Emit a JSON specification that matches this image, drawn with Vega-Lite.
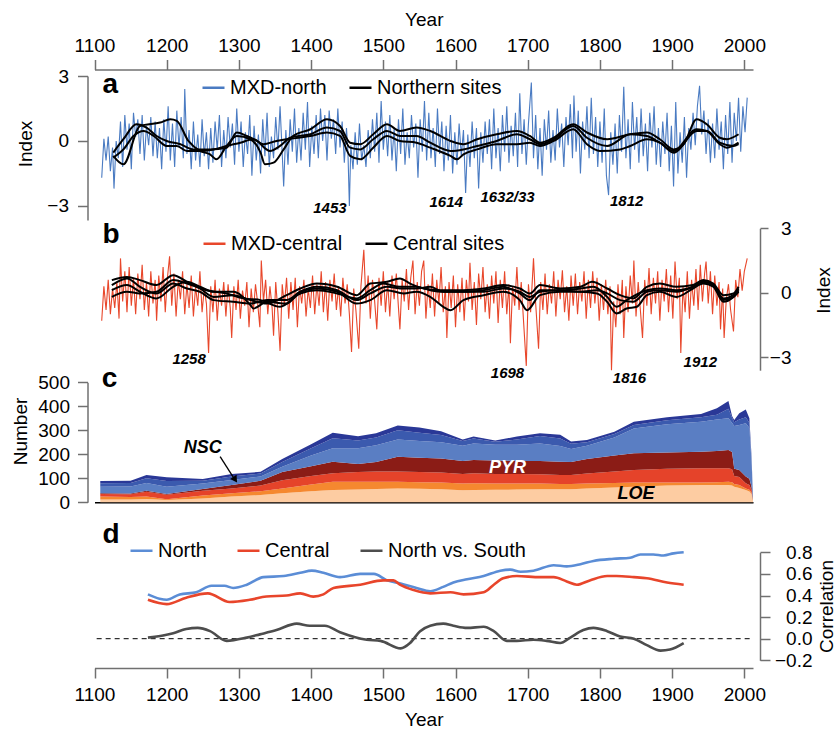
{
"$schema": "https://vega.github.io/schema/vega-lite/v6.json",
"width": 837, "height": 729, "autosize": {"type": "none"}, "padding": 0,
"config": {
 "view": {"stroke": null},
 "font": "Liberation Sans",
 "axis": {"grid": false, "labelFont": "Liberation Sans", "titleFont": "Liberation Sans", "labelFontSize": 19, "titleFontSize": 19, "titleFontWeight": "normal", "labelColor": "#000", "titleColor": "#000", "domainColor": "#707070", "tickColor": "#707070", "domainWidth": 1.5, "tickWidth": 1.5, "labelFlush": false, "labelOverlap": false},
 "legend": {"orient": "none", "direction": "horizontal", "title": null, "labelFont": "Liberation Sans", "labelFontSize": 20, "labelColor": "#000", "symbolType": "stroke", "symbolSize": 484, "symbolStrokeWidth": 2.5, "labelOffset": 4, "columnPadding": 17, "padding": 0}
},
"datasets": {
 "north": [
{"year":1110,"index":-1.7},{"year":1113,"index":0.1},{"year":1116,"index":-0.9},{"year":1119,"index":0.2},{"year":1122,"index":-1.4},{"year":1125,"index":-0.3},{"year":1127,"index":-2.2},{"year":1130,"index":0.0},{"year":1133,"index":-0.8},{"year":1136,"index":0.9},{"year":1139,"index":-1.2},{"year":1142,"index":1.2},{"year":1145,"index":-0.4},{"year":1148,"index":0.8},{"year":1151,"index":-1.3},{"year":1154,"index":1.3},{"year":1157,"index":0.2},{"year":1160,"index":1.0},{"year":1163,"index":-0.6},{"year":1166,"index":1.2},{"year":1169,"index":-0.9},{"year":1172,"index":0.7},{"year":1175,"index":-0.2},{"year":1178,"index":1.1},{"year":1181,"index":-0.7},{"year":1184,"index":0.9},{"year":1187,"index":-0.8},{"year":1190,"index":0.6},{"year":1193,"index":-1.3},{"year":1196,"index":1.0},{"year":1199,"index":-0.5},{"year":1202,"index":1.6},{"year":1205,"index":-0.9},{"year":1208,"index":0.8},{"year":1211,"index":-1.2},{"year":1214,"index":1.4},{"year":1217,"index":-0.3},{"year":1220,"index":1.1},{"year":1223,"index":-0.8},{"year":1225,"index":2.4},{"year":1228,"index":-0.6},{"year":1231,"index":0.5},{"year":1234,"index":-1.3},{"year":1237,"index":0.9},{"year":1240,"index":-0.9},{"year":1243,"index":0.3},{"year":1246,"index":-1.2},{"year":1249,"index":1.0},{"year":1252,"index":-0.7},{"year":1255,"index":0.4},{"year":1258,"index":-1.3},{"year":1261,"index":0.6},{"year":1264,"index":-1.0},{"year":1267,"index":0.9},{"year":1270,"index":-0.4},{"year":1273,"index":1.2},{"year":1276,"index":-1.2},{"year":1279,"index":0.5},{"year":1282,"index":-0.8},{"year":1285,"index":1.1},{"year":1288,"index":-0.3},{"year":1291,"index":0.8},{"year":1294,"index":-1.1},{"year":1297,"index":1.5},{"year":1300,"index":-0.5},{"year":1303,"index":0.9},{"year":1306,"index":-1.2},{"year":1309,"index":0.4},{"year":1312,"index":-0.6},{"year":1315,"index":1.2},{"year":1318,"index":-1.6},{"year":1321,"index":0.7},{"year":1324,"index":-0.9},{"year":1327,"index":0.3},{"year":1330,"index":-1.5},{"year":1333,"index":1.0},{"year":1336,"index":-0.7},{"year":1339,"index":1.3},{"year":1342,"index":-1.2},{"year":1345,"index":0.2},{"year":1348,"index":-0.8},{"year":1351,"index":1.1},{"year":1354,"index":-0.4},{"year":1357,"index":1.6},{"year":1360,"index":-0.6},{"year":1362,"index":-2.1},{"year":1365,"index":0.5},{"year":1368,"index":-1.1},{"year":1371,"index":1.0},{"year":1374,"index":-0.5},{"year":1377,"index":1.5},{"year":1380,"index":-1.0},{"year":1383,"index":0.6},{"year":1386,"index":-0.9},{"year":1389,"index":1.3},{"year":1392,"index":-0.4},{"year":1395,"index":1.8},{"year":1398,"index":-1.2},{"year":1401,"index":0.7},{"year":1404,"index":-0.6},{"year":1407,"index":1.2},{"year":1410,"index":-0.8},{"year":1413,"index":1.5},{"year":1416,"index":0.0},{"year":1419,"index":1.2},{"year":1422,"index":-0.9},{"year":1425,"index":1.4},{"year":1428,"index":0.1},{"year":1431,"index":1.0},{"year":1434,"index":-0.6},{"year":1437,"index":1.5},{"year":1440,"index":-0.3},{"year":1443,"index":0.9},{"year":1446,"index":-1.0},{"year":1449,"index":0.6},{"year":1451,"index":-0.5},{"year":1453,"index":-3.0},{"year":1455,"index":-0.2},{"year":1458,"index":-1.3},{"year":1461,"index":0.4},{"year":1464,"index":-1.1},{"year":1467,"index":0.8},{"year":1470,"index":-0.9},{"year":1473,"index":-0.2},{"year":1476,"index":-1.2},{"year":1479,"index":0.5},{"year":1482,"index":-0.8},{"year":1485,"index":1.0},{"year":1488,"index":-0.5},{"year":1491,"index":1.3},{"year":1494,"index":-1.0},{"year":1497,"index":1.85},{"year":1500,"index":-0.4},{"year":1503,"index":0.9},{"year":1506,"index":-0.7},{"year":1509,"index":1.2},{"year":1512,"index":-0.9},{"year":1515,"index":0.6},{"year":1518,"index":-1.4},{"year":1521,"index":1.0},{"year":1524,"index":-0.6},{"year":1527,"index":1.5},{"year":1530,"index":-1.1},{"year":1533,"index":0.4},{"year":1536,"index":-0.8},{"year":1539,"index":1.2},{"year":1542,"index":-0.3},{"year":1545,"index":0.8},{"year":1548,"index":-1.7},{"year":1551,"index":1.0},{"year":1554,"index":-0.5},{"year":1557,"index":1.85},{"year":1560,"index":-0.9},{"year":1563,"index":1.3},{"year":1566,"index":-0.8},{"year":1569,"index":0.6},{"year":1572,"index":-1.2},{"year":1575,"index":1.5},{"year":1578,"index":-0.6},{"year":1581,"index":0.9},{"year":1584,"index":-1.4},{"year":1587,"index":0.7},{"year":1590,"index":-0.9},{"year":1593,"index":1.2},{"year":1596,"index":-1.5},{"year":1599,"index":0.4},{"year":1602,"index":-1.1},{"year":1605,"index":0.8},{"year":1608,"index":-0.7},{"year":1611,"index":0.5},{"year":1614,"index":-2.4},{"year":1617,"index":0.3},{"year":1620,"index":-1.2},{"year":1623,"index":0.9},{"year":1626,"index":-0.8},{"year":1629,"index":0.6},{"year":1632,"index":-2.2},{"year":1635,"index":0.4},{"year":1638,"index":-1.0},{"year":1641,"index":0.9},{"year":1644,"index":-0.6},{"year":1647,"index":1.0},{"year":1650,"index":-1.3},{"year":1653,"index":1.5},{"year":1656,"index":-0.8},{"year":1659,"index":0.6},{"year":1662,"index":-1.4},{"year":1665,"index":1.2},{"year":1668,"index":-0.5},{"year":1671,"index":1.6},{"year":1674,"index":-1.0},{"year":1677,"index":0.7},{"year":1680,"index":-0.7},{"year":1683,"index":1.3},{"year":1686,"index":-1.2},{"year":1689,"index":2.2},{"year":1692,"index":-0.6},{"year":1695,"index":1.0},{"year":1698,"index":-1.1},{"year":1701,"index":0.8},{"year":1705,"index":2.7},{"year":1708,"index":-0.8},{"year":1711,"index":1.2},{"year":1714,"index":-1.3},{"year":1717,"index":0.6},{"year":1720,"index":-1.6},{"year":1723,"index":1.0},{"year":1726,"index":-0.4},{"year":1729,"index":1.4},{"year":1732,"index":-1.0},{"year":1735,"index":0.5},{"year":1738,"index":-0.9},{"year":1741,"index":1.5},{"year":1744,"index":-0.3},{"year":1747,"index":0.8},{"year":1750,"index":-1.2},{"year":1753,"index":1.1},{"year":1756,"index":-0.2},{"year":1759,"index":1.7},{"year":1762,"index":-0.8},{"year":1764,"index":2.1},{"year":1767,"index":-0.5},{"year":1770,"index":1.4},{"year":1773,"index":-1.5},{"year":1776,"index":0.9},{"year":1779,"index":-0.4},{"year":1782,"index":1.6},{"year":1785,"index":-0.8},{"year":1788,"index":2.0},{"year":1791,"index":-0.6},{"year":1794,"index":1.1},{"year":1797,"index":-1.2},{"year":1800,"index":0.9},{"year":1803,"index":-1.0},{"year":1806,"index":1.5},{"year":1809,"index":-1.6},{"year":1812,"index":-2.5},{"year":1815,"index":0.4},{"year":1818,"index":-1.1},{"year":1821,"index":0.8},{"year":1824,"index":-1.5},{"year":1827,"index":1.2},{"year":1830,"index":-0.5},{"year":1833,"index":2.5},{"year":1836,"index":-0.8},{"year":1839,"index":1.0},{"year":1842,"index":-1.3},{"year":1845,"index":1.8},{"year":1848,"index":-0.4},{"year":1851,"index":1.1},{"year":1854,"index":-1.0},{"year":1857,"index":1.5},{"year":1860,"index":-0.7},{"year":1863,"index":0.8},{"year":1866,"index":-1.4},{"year":1869,"index":1.3},{"year":1872,"index":-0.3},{"year":1875,"index":1.6},{"year":1878,"index":-1.1},{"year":1881,"index":0.6},{"year":1884,"index":-1.2},{"year":1887,"index":0.9},{"year":1890,"index":-0.6},{"year":1893,"index":1.3},{"year":1896,"index":-1.4},{"year":1899,"index":0.7},{"year":1902,"index":-2.1},{"year":1905,"index":1.8},{"year":1908,"index":-1.5},{"year":1911,"index":0.4},{"year":1914,"index":-1.0},{"year":1917,"index":1.1},{"year":1920,"index":-1.7},{"year":1923,"index":0.6},{"year":1926,"index":-0.4},{"year":1929,"index":1.3},{"year":1932,"index":-0.2},{"year":1935,"index":1.6},{"year":1938,"index":2.55},{"year":1941,"index":0.3},{"year":1944,"index":1.4},{"year":1947,"index":-0.6},{"year":1950,"index":1.0},{"year":1953,"index":-1.0},{"year":1956,"index":0.8},{"year":1959,"index":-0.8},{"year":1962,"index":1.5},{"year":1965,"index":-0.4},{"year":1968,"index":0.9},{"year":1971,"index":-1.3},{"year":1974,"index":1.2},{"year":1977,"index":-0.6},{"year":1980,"index":1.8},{"year":1983,"index":-1.0},{"year":1986,"index":1.3},{"year":1989,"index":0.0},{"year":1992,"index":2.0},{"year":1995,"index":-0.5},{"year":1998,"index":1.6},{"year":2001,"index":0.4},{"year":2004,"index":2.0}
 ],
 "northSites": [
{"site":"N1","year":1126,"index":-0.69},{"site":"N1","year":1140,"index":-1.08},{"site":"N1","year":1163,"index":0.69},{"site":"N1","year":1191,"index":0.85},{"site":"N1","year":1205,"index":1.0},{"site":"N1","year":1214,"index":0.93},{"site":"N1","year":1230,"index":0.0},{"site":"N1","year":1246,"index":-0.46},{"site":"N1","year":1260,"index":-0.62},{"site":"N1","year":1269,"index":-0.85},{"site":"N1","year":1283,"index":-0.23},{"site":"N1","year":1297,"index":0.23},{"site":"N1","year":1316,"index":0.08},{"site":"N1","year":1330,"index":-0.54},{"site":"N1","year":1336,"index":-1.08},{"site":"N1","year":1348,"index":-1.0},{"site":"N1","year":1362,"index":-0.39},{"site":"N1","year":1375,"index":0.23},{"site":"N1","year":1399,"index":0.54},{"site":"N1","year":1422,"index":1.0},{"site":"N1","year":1440,"index":0.69},{"site":"N1","year":1454,"index":-0.08},{"site":"N1","year":1468,"index":-0.15},{"site":"N1","year":1486,"index":0.31},{"site":"N1","year":1505,"index":0.77},{"site":"N1","year":1523,"index":0.46},{"site":"N1","year":1546,"index":0.62},{"site":"N1","year":1565,"index":0.46},{"site":"N1","year":1593,"index":0.0},{"site":"N1","year":1611,"index":-0.15},{"site":"N1","year":1630,"index":0.08},{"site":"N1","year":1657,"index":0.31},{"site":"N1","year":1685,"index":0.46},{"site":"N1","year":1703,"index":0.23},{"site":"N1","year":1717,"index":-0.08},{"site":"N1","year":1736,"index":0.15},{"site":"N1","year":1763,"index":0.77},{"site":"N1","year":1782,"index":0.39},{"site":"N1","year":1810,"index":0.08},{"site":"N1","year":1842,"index":0.31},{"site":"N1","year":1865,"index":0.39},{"site":"N1","year":1883,"index":0.08},{"site":"N1","year":1902,"index":-0.39},{"site":"N1","year":1916,"index":-0.15},{"site":"N1","year":1934,"index":1.0},{"site":"N1","year":1948,"index":0.77},{"site":"N1","year":1966,"index":0.15},{"site":"N1","year":1976,"index":0.08},{"site":"N1","year":1992,"index":0.31},
{"site":"N2","year":1126,"index":-0.54},{"site":"N2","year":1140,"index":0.08},{"site":"N2","year":1158,"index":0.77},{"site":"N2","year":1172,"index":0.62},{"site":"N2","year":1186,"index":0.23},{"site":"N2","year":1200,"index":0.0},{"site":"N2","year":1219,"index":-0.15},{"site":"N2","year":1237,"index":-0.39},{"site":"N2","year":1260,"index":-0.39},{"site":"N2","year":1283,"index":-0.31},{"site":"N2","year":1297,"index":0.39},{"site":"N2","year":1311,"index":0.23},{"site":"N2","year":1325,"index":0.0},{"site":"N2","year":1343,"index":-0.46},{"site":"N2","year":1357,"index":-0.23},{"site":"N2","year":1371,"index":0.15},{"site":"N2","year":1399,"index":0.31},{"site":"N2","year":1422,"index":0.62},{"site":"N2","year":1440,"index":0.46},{"site":"N2","year":1454,"index":-0.31},{"site":"N2","year":1468,"index":-0.39},{"site":"N2","year":1486,"index":0.08},{"site":"N2","year":1505,"index":0.46},{"site":"N2","year":1523,"index":0.23},{"site":"N2","year":1546,"index":0.23},{"site":"N2","year":1565,"index":-0.08},{"site":"N2","year":1593,"index":-0.46},{"site":"N2","year":1611,"index":-0.39},{"site":"N2","year":1630,"index":-0.23},{"site":"N2","year":1657,"index":0.0},{"site":"N2","year":1685,"index":0.31},{"site":"N2","year":1703,"index":0.08},{"site":"N2","year":1717,"index":-0.15},{"site":"N2","year":1736,"index":0.08},{"site":"N2","year":1763,"index":0.69},{"site":"N2","year":1782,"index":0.15},{"site":"N2","year":1810,"index":-0.23},{"site":"N2","year":1842,"index":0.31},{"site":"N2","year":1865,"index":0.23},{"site":"N2","year":1883,"index":-0.08},{"site":"N2","year":1902,"index":-0.46},{"site":"N2","year":1934,"index":0.54},{"site":"N2","year":1948,"index":0.46},{"site":"N2","year":1966,"index":-0.15},{"site":"N2","year":1976,"index":-0.31},{"site":"N2","year":1992,"index":-0.08},
{"site":"N3","year":1126,"index":-0.77},{"site":"N3","year":1140,"index":-0.39},{"site":"N3","year":1154,"index":0.23},{"site":"N3","year":1168,"index":0.46},{"site":"N3","year":1182,"index":0.23},{"site":"N3","year":1200,"index":-0.23},{"site":"N3","year":1214,"index":-0.23},{"site":"N3","year":1228,"index":-0.46},{"site":"N3","year":1246,"index":-0.46},{"site":"N3","year":1265,"index":-0.39},{"site":"N3","year":1283,"index":-0.23},{"site":"N3","year":1302,"index":-0.08},{"site":"N3","year":1320,"index":0.08},{"site":"N3","year":1334,"index":-0.15},{"site":"N3","year":1352,"index":0.0},{"site":"N3","year":1371,"index":0.1},{"site":"N3","year":1399,"index":0.23},{"site":"N3","year":1422,"index":0.39},{"site":"N3","year":1440,"index":0.23},{"site":"N3","year":1454,"index":-0.69},{"site":"N3","year":1468,"index":-0.85},{"site":"N3","year":1486,"index":-0.31},{"site":"N3","year":1505,"index":0.23},{"site":"N3","year":1523,"index":0.0},{"site":"N3","year":1546,"index":-0.08},{"site":"N3","year":1565,"index":-0.31},{"site":"N3","year":1593,"index":-0.69},{"site":"N3","year":1602,"index":-0.85},{"site":"N3","year":1611,"index":-0.62},{"site":"N3","year":1630,"index":-0.39},{"site":"N3","year":1657,"index":-0.15},{"site":"N3","year":1685,"index":-0.15},{"site":"N3","year":1703,"index":-0.08},{"site":"N3","year":1717,"index":-0.23},{"site":"N3","year":1736,"index":0.0},{"site":"N3","year":1763,"index":0.54},{"site":"N3","year":1782,"index":-0.15},{"site":"N3","year":1800,"index":-0.46},{"site":"N3","year":1828,"index":-0.39},{"site":"N3","year":1842,"index":-0.23},{"site":"N3","year":1865,"index":0.08},{"site":"N3","year":1883,"index":-0.08},{"site":"N3","year":1902,"index":-0.54},{"site":"N3","year":1934,"index":0.46},{"site":"N3","year":1948,"index":0.46},{"site":"N3","year":1966,"index":-0.08},{"site":"N3","year":1985,"index":-0.23},{"site":"N3","year":1992,"index":-0.15}
 ],
 "central": [
{"year":1110,"index":-1.3},{"year":1113,"index":0.3},{"year":1116,"index":-0.8},{"year":1119,"index":0.6},{"year":1122,"index":-1.0},{"year":1125,"index":0.2},{"year":1128,"index":-0.7},{"year":1131,"index":0.5},{"year":1134,"index":-1.2},{"year":1136,"index":1.6},{"year":1139,"index":-0.4},{"year":1142,"index":1.0},{"year":1145,"index":-0.9},{"year":1148,"index":1.2},{"year":1151,"index":-0.6},{"year":1154,"index":0.7},{"year":1157,"index":-1.0},{"year":1160,"index":0.9},{"year":1163,"index":-0.3},{"year":1166,"index":1.3},{"year":1169,"index":-0.8},{"year":1172,"index":0.5},{"year":1175,"index":-1.1},{"year":1178,"index":1.0},{"year":1181,"index":-0.5},{"year":1184,"index":0.6},{"year":1186,"index":-1.3},{"year":1189,"index":0.8},{"year":1192,"index":-0.4},{"year":1195,"index":1.2},{"year":1198,"index":-0.9},{"year":1201,"index":0.7},{"year":1204,"index":1.7},{"year":1207,"index":-0.6},{"year":1210,"index":0.9},{"year":1213,"index":-1.1},{"year":1216,"index":0.6},{"year":1219,"index":-0.3},{"year":1222,"index":1.0},{"year":1225,"index":-1.0},{"year":1228,"index":0.4},{"year":1231,"index":-0.7},{"year":1234,"index":0.8},{"year":1237,"index":-1.1},{"year":1240,"index":0.3},{"year":1243,"index":-0.6},{"year":1246,"index":1.0},{"year":1249,"index":-0.9},{"year":1252,"index":0.2},{"year":1255,"index":-0.5},{"year":1258,"index":-2.8},{"year":1261,"index":0.3},{"year":1264,"index":-0.9},{"year":1267,"index":0.6},{"year":1270,"index":-1.3},{"year":1273,"index":0.2},{"year":1276,"index":-0.6},{"year":1279,"index":0.5},{"year":1282,"index":-1.1},{"year":1285,"index":0.4},{"year":1288,"index":-0.7},{"year":1290,"index":-2.1},{"year":1293,"index":0.3},{"year":1296,"index":-0.8},{"year":1299,"index":0.6},{"year":1302,"index":-1.2},{"year":1305,"index":0.1},{"year":1308,"index":-0.6},{"year":1311,"index":0.5},{"year":1314,"index":-1.6},{"year":1317,"index":0.2},{"year":1320,"index":-0.9},{"year":1323,"index":0.4},{"year":1326,"index":-0.5},{"year":1329,"index":-1.6},{"year":1331,"index":1.5},{"year":1334,"index":-0.4},{"year":1337,"index":0.6},{"year":1340,"index":-1.0},{"year":1343,"index":0.3},{"year":1346,"index":-0.7},{"year":1348,"index":-2.0},{"year":1351,"index":0.5},{"year":1354,"index":-0.9},{"year":1357,"index":-2.7},{"year":1360,"index":0.4},{"year":1363,"index":-0.6},{"year":1366,"index":0.7},{"year":1369,"index":-1.2},{"year":1372,"index":0.5},{"year":1375,"index":-0.8},{"year":1378,"index":0.7},{"year":1381,"index":-1.6},{"year":1384,"index":0.3},{"year":1387,"index":-0.5},{"year":1390,"index":0.6},{"year":1393,"index":-1.1},{"year":1396,"index":0.2},{"year":1399,"index":-0.7},{"year":1402,"index":0.8},{"year":1405,"index":-1.0},{"year":1408,"index":0.4},{"year":1411,"index":-0.6},{"year":1414,"index":1.0},{"year":1417,"index":-0.9},{"year":1420,"index":0.5},{"year":1423,"index":-1.3},{"year":1426,"index":0.6},{"year":1429,"index":-0.4},{"year":1432,"index":0.9},{"year":1435,"index":-0.8},{"year":1438,"index":0.3},{"year":1441,"index":-1.1},{"year":1444,"index":0.7},{"year":1447,"index":-0.5},{"year":1450,"index":0.4},{"year":1453,"index":-1.0},{"year":1456,"index":-2.75},{"year":1459,"index":0.2},{"year":1462,"index":-0.8},{"year":1466,"index":-2.6},{"year":1469,"index":0.3},{"year":1473,"index":2.0},{"year":1476,"index":-0.5},{"year":1479,"index":0.8},{"year":1482,"index":-1.2},{"year":1485,"index":0.6},{"year":1488,"index":-0.4},{"year":1491,"index":-1.7},{"year":1494,"index":0.7},{"year":1497,"index":-0.6},{"year":1500,"index":1.0},{"year":1503,"index":-0.9},{"year":1506,"index":0.5},{"year":1509,"index":-1.1},{"year":1512,"index":0.8},{"year":1515,"index":-0.3},{"year":1518,"index":0.9},{"year":1521,"index":-0.7},{"year":1523,"index":-1.7},{"year":1526,"index":0.6},{"year":1529,"index":-0.4},{"year":1532,"index":1.1},{"year":1535,"index":-0.8},{"year":1538,"index":0.7},{"year":1541,"index":1.5},{"year":1544,"index":-1.0},{"year":1547,"index":0.5},{"year":1550,"index":-0.6},{"year":1553,"index":1.0},{"year":1556,"index":1.5},{"year":1559,"index":-1.2},{"year":1562,"index":0.4},{"year":1565,"index":-0.7},{"year":1568,"index":0.9},{"year":1571,"index":-1.1},{"year":1574,"index":0.6},{"year":1577,"index":-0.5},{"year":1580,"index":1.2},{"year":1583,"index":-0.9},{"year":1586,"index":0.3},{"year":1588,"index":-2.1},{"year":1591,"index":0.5},{"year":1594,"index":-0.7},{"year":1597,"index":0.8},{"year":1600,"index":-1.6},{"year":1603,"index":0.4},{"year":1606,"index":-0.9},{"year":1609,"index":0.7},{"year":1612,"index":-1.3},{"year":1615,"index":0.6},{"year":1618,"index":-0.4},{"year":1620,"index":1.4},{"year":1623,"index":-0.8},{"year":1626,"index":0.5},{"year":1629,"index":-1.5},{"year":1632,"index":0.9},{"year":1635,"index":-0.3},{"year":1638,"index":1.2},{"year":1641,"index":-0.9},{"year":1644,"index":0.4},{"year":1647,"index":-1.2},{"year":1650,"index":0.8},{"year":1653,"index":-0.5},{"year":1656,"index":1.0},{"year":1659,"index":-1.4},{"year":1662,"index":0.6},{"year":1665,"index":-0.7},{"year":1668,"index":1.0},{"year":1671,"index":-1.0},{"year":1674,"index":0.4},{"year":1676,"index":-2.35},{"year":1679,"index":0.3},{"year":1682,"index":-0.6},{"year":1685,"index":1.2},{"year":1688,"index":-0.8},{"year":1691,"index":0.5},{"year":1694,"index":-1.2},{"year":1698,"index":-3.4},{"year":1701,"index":0.4},{"year":1704,"index":-0.9},{"year":1708,"index":1.6},{"year":1711,"index":-0.5},{"year":1715,"index":-2.6},{"year":1718,"index":0.5},{"year":1721,"index":-0.8},{"year":1724,"index":0.9},{"year":1727,"index":-1.0},{"year":1730,"index":0.4},{"year":1733,"index":-0.5},{"year":1736,"index":1.0},{"year":1739,"index":-1.1},{"year":1742,"index":0.6},{"year":1745,"index":-0.3},{"year":1748,"index":1.05},{"year":1751,"index":-0.9},{"year":1754,"index":0.3},{"year":1757,"index":-1.3},{"year":1760,"index":0.8},{"year":1763,"index":-0.6},{"year":1766,"index":0.9},{"year":1769,"index":-1.0},{"year":1772,"index":0.5},{"year":1775,"index":-0.4},{"year":1778,"index":1.0},{"year":1781,"index":-1.2},{"year":1784,"index":0.6},{"year":1787,"index":-0.7},{"year":1790,"index":1.0},{"year":1793,"index":-0.5},{"year":1796,"index":0.7},{"year":1799,"index":-1.3},{"year":1802,"index":0.4},{"year":1805,"index":-0.8},{"year":1808,"index":0.6},{"year":1811,"index":-1.0},{"year":1814,"index":0.3},{"year":1816,"index":-3.6},{"year":1819,"index":-0.4},{"year":1822,"index":-1.6},{"year":1825,"index":0.4},{"year":1828,"index":-1.0},{"year":1831,"index":0.6},{"year":1833,"index":-2.1},{"year":1836,"index":0.3},{"year":1839,"index":-0.9},{"year":1842,"index":0.8},{"year":1845,"index":-0.5},{"year":1847,"index":1.5},{"year":1850,"index":-1.1},{"year":1853,"index":0.5},{"year":1856,"index":-0.8},{"year":1859,"index":-2.1},{"year":1862,"index":0.6},{"year":1865,"index":-0.6},{"year":1868,"index":1.15},{"year":1871,"index":-1.0},{"year":1874,"index":0.7},{"year":1877,"index":-0.5},{"year":1880,"index":1.0},{"year":1883,"index":-1.3},{"year":1886,"index":0.6},{"year":1889,"index":-0.4},{"year":1892,"index":1.1},{"year":1895,"index":-0.9},{"year":1898,"index":0.8},{"year":1901,"index":-1.2},{"year":1904,"index":1.45},{"year":1907,"index":-0.3},{"year":1910,"index":0.7},{"year":1912,"index":-2.8},{"year":1915,"index":0.3},{"year":1918,"index":-0.9},{"year":1921,"index":1.0},{"year":1924,"index":-1.2},{"year":1927,"index":0.6},{"year":1930,"index":-0.6},{"year":1933,"index":1.1},{"year":1936,"index":-0.8},{"year":1939,"index":1.3},{"year":1942,"index":-0.4},{"year":1945,"index":0.9},{"year":1947,"index":1.45},{"year":1950,"index":-0.5},{"year":1953,"index":1.0},{"year":1956,"index":-1.0},{"year":1959,"index":0.8},{"year":1962,"index":-0.6},{"year":1965,"index":0.5},{"year":1967,"index":-1.7},{"year":1970,"index":0.2},{"year":1972,"index":-2.1},{"year":1975,"index":-0.3},{"year":1978,"index":0.4},{"year":1981,"index":-0.8},{"year":1985,"index":-1.8},{"year":1988,"index":0.6},{"year":1991,"index":-0.2},{"year":1994,"index":1.1},{"year":1997,"index":0.1},{"year":2000,"index":1.0},{"year":2004,"index":1.6}
 ],
 "centralSites": [
{"site":"C1","year":1124,"index":0.59},{"site":"C1","year":1145,"index":0.74},{"site":"C1","year":1163,"index":0.59},{"site":"C1","year":1186,"index":0.36},{"site":"C1","year":1209,"index":0.82},{"site":"C1","year":1228,"index":0.51},{"site":"C1","year":1246,"index":0.2},{"site":"C1","year":1265,"index":-0.19},{"site":"C1","year":1292,"index":-0.11},{"site":"C1","year":1316,"index":-0.34},{"site":"C1","year":1339,"index":-0.5},{"site":"C1","year":1366,"index":-0.11},{"site":"C1","year":1385,"index":0.2},{"site":"C1","year":1408,"index":0.43},{"site":"C1","year":1436,"index":0.28},{"site":"C1","year":1463,"index":-0.11},{"site":"C1","year":1482,"index":0.43},{"site":"C1","year":1505,"index":0.51},{"site":"C1","year":1523,"index":0.67},{"site":"C1","year":1537,"index":0.43},{"site":"C1","year":1556,"index":0.2},{"site":"C1","year":1579,"index":0.12},{"site":"C1","year":1611,"index":0.12},{"site":"C1","year":1639,"index":0.2},{"site":"C1","year":1666,"index":0.36},{"site":"C1","year":1689,"index":0.2},{"site":"C1","year":1703,"index":-0.03},{"site":"C1","year":1717,"index":0.36},{"site":"C1","year":1745,"index":0.2},{"site":"C1","year":1773,"index":0.28},{"site":"C1","year":1789,"index":0.51},{"site":"C1","year":1810,"index":0.2},{"site":"C1","year":1828,"index":-0.11},{"site":"C1","year":1846,"index":-0.26},{"site":"C1","year":1865,"index":0.28},{"site":"C1","year":1883,"index":0.43},{"site":"C1","year":1906,"index":0.28},{"site":"C1","year":1929,"index":0.36},{"site":"C1","year":1943,"index":0.59},{"site":"C1","year":1957,"index":0.43},{"site":"C1","year":1971,"index":-0.11},{"site":"C1","year":1985,"index":-0.03},{"site":"C1","year":1992,"index":0.28},
{"site":"C2","year":1124,"index":0.36},{"site":"C2","year":1145,"index":0.67},{"site":"C2","year":1163,"index":0.28},{"site":"C2","year":1186,"index":-0.03},{"site":"C2","year":1209,"index":0.43},{"site":"C2","year":1228,"index":0.2},{"site":"C2","year":1246,"index":0.05},{"site":"C2","year":1265,"index":-0.34},{"site":"C2","year":1292,"index":-0.42},{"site":"C2","year":1316,"index":-0.5},{"site":"C2","year":1339,"index":-0.34},{"site":"C2","year":1366,"index":-0.34},{"site":"C2","year":1385,"index":0.05},{"site":"C2","year":1408,"index":0.28},{"site":"C2","year":1436,"index":0.12},{"site":"C2","year":1463,"index":-0.34},{"site":"C2","year":1482,"index":-0.03},{"site":"C2","year":1505,"index":0.28},{"site":"C2","year":1528,"index":0.2},{"site":"C2","year":1546,"index":0.2},{"site":"C2","year":1565,"index":0.28},{"site":"C2","year":1583,"index":0.05},{"site":"C2","year":1611,"index":0.05},{"site":"C2","year":1639,"index":0.12},{"site":"C2","year":1666,"index":0.28},{"site":"C2","year":1689,"index":-0.03},{"site":"C2","year":1703,"index":-0.34},{"site":"C2","year":1717,"index":0.12},{"site":"C2","year":1745,"index":0.12},{"site":"C2","year":1773,"index":0.2},{"site":"C2","year":1791,"index":0.28},{"site":"C2","year":1810,"index":-0.19},{"site":"C2","year":1823,"index":-0.65},{"site":"C2","year":1837,"index":-0.34},{"site":"C2","year":1865,"index":0.12},{"site":"C2","year":1883,"index":0.2},{"site":"C2","year":1906,"index":0.12},{"site":"C2","year":1929,"index":0.28},{"site":"C2","year":1943,"index":0.51},{"site":"C2","year":1957,"index":0.36},{"site":"C2","year":1971,"index":-0.26},{"site":"C2","year":1985,"index":-0.11},{"site":"C2","year":1992,"index":0.2},
{"site":"C3","year":1124,"index":0.12},{"site":"C3","year":1145,"index":0.36},{"site":"C3","year":1163,"index":0.05},{"site":"C3","year":1186,"index":-0.26},{"site":"C3","year":1209,"index":0.28},{"site":"C3","year":1228,"index":0.51},{"site":"C3","year":1246,"index":0.28},{"site":"C3","year":1265,"index":0.05},{"site":"C3","year":1292,"index":0.05},{"site":"C3","year":1316,"index":-0.57},{"site":"C3","year":1320,"index":-0.73},{"site":"C3","year":1339,"index":-0.42},{"site":"C3","year":1366,"index":-0.5},{"site":"C3","year":1385,"index":0.05},{"site":"C3","year":1408,"index":0.2},{"site":"C3","year":1436,"index":0.05},{"site":"C3","year":1463,"index":-0.5},{"site":"C3","year":1482,"index":-0.34},{"site":"C3","year":1505,"index":0.12},{"site":"C3","year":1528,"index":-0.03},{"site":"C3","year":1546,"index":0.05},{"site":"C3","year":1565,"index":-0.19},{"site":"C3","year":1583,"index":-0.65},{"site":"C3","year":1593,"index":-0.81},{"site":"C3","year":1611,"index":-0.34},{"site":"C3","year":1639,"index":-0.11},{"site":"C3","year":1666,"index":0.05},{"site":"C3","year":1689,"index":-0.34},{"site":"C3","year":1699,"index":-0.81},{"site":"C3","year":1717,"index":-0.11},{"site":"C3","year":1745,"index":0.05},{"site":"C3","year":1773,"index":0.05},{"site":"C3","year":1796,"index":-0.03},{"site":"C3","year":1810,"index":-0.42},{"site":"C3","year":1823,"index":-0.96},{"site":"C3","year":1837,"index":-0.73},{"site":"C3","year":1851,"index":-0.65},{"site":"C3","year":1865,"index":-0.11},{"site":"C3","year":1883,"index":0.05},{"site":"C3","year":1906,"index":-0.19},{"site":"C3","year":1929,"index":0.2},{"site":"C3","year":1943,"index":0.43},{"site":"C3","year":1957,"index":0.28},{"site":"C3","year":1971,"index":-0.42},{"site":"C3","year":1985,"index":-0.19},{"site":"C3","year":1992,"index":0.05},
{"site":"C4","year":1124,"index":-0.19},{"site":"C4","year":1145,"index":0.05},{"site":"C4","year":1163,"index":-0.03},{"site":"C4","year":1186,"index":0.05},{"site":"C4","year":1209,"index":0.59},{"site":"C4","year":1228,"index":0.43},{"site":"C4","year":1255,"index":0.12},{"site":"C4","year":1283,"index":-0.03},{"site":"C4","year":1306,"index":-0.26},{"site":"C4","year":1330,"index":-0.34},{"site":"C4","year":1357,"index":-0.65},{"site":"C4","year":1385,"index":-0.03},{"site":"C4","year":1408,"index":0.12},{"site":"C4","year":1436,"index":-0.03},{"site":"C4","year":1463,"index":-0.26},{"site":"C4","year":1482,"index":0.12},{"site":"C4","year":1500,"index":0.43},{"site":"C4","year":1523,"index":0.28},{"site":"C4","year":1546,"index":0.28},{"site":"C4","year":1565,"index":0.12},{"site":"C4","year":1583,"index":0.05},{"site":"C4","year":1611,"index":0.05},{"site":"C4","year":1639,"index":0.05},{"site":"C4","year":1666,"index":0.2},{"site":"C4","year":1689,"index":0.05},{"site":"C4","year":1703,"index":-0.19},{"site":"C4","year":1717,"index":0.05},{"site":"C4","year":1745,"index":0.12},{"site":"C4","year":1773,"index":0.05},{"site":"C4","year":1796,"index":0.12},{"site":"C4","year":1810,"index":-0.03},{"site":"C4","year":1828,"index":-0.34},{"site":"C4","year":1846,"index":-0.42},{"site":"C4","year":1865,"index":0.05},{"site":"C4","year":1883,"index":0.12},{"site":"C4","year":1906,"index":0.05},{"site":"C4","year":1929,"index":0.28},{"site":"C4","year":1943,"index":0.51},{"site":"C4","year":1957,"index":0.36},{"site":"C4","year":1971,"index":-0.34},{"site":"C4","year":1985,"index":-0.19},{"site":"C4","year":1992,"index":0.12}
 ],
 "counts": [
{"year":1108,"group":"g1 LOE","n":12},{"year":1108,"group":"g2","n":12},{"year":1108,"group":"g3","n":11},{"year":1108,"group":"g4 PYR","n":3},{"year":1108,"group":"g5 NSC","n":27},{"year":1108,"group":"g6","n":14},{"year":1108,"group":"g7","n":10},
{"year":1150,"group":"g1 LOE","n":12},{"year":1150,"group":"g2","n":10},{"year":1150,"group":"g3","n":12},{"year":1150,"group":"g4 PYR","n":3},{"year":1150,"group":"g5 NSC","n":29},{"year":1150,"group":"g6","n":14},{"year":1150,"group":"g7","n":10},
{"year":1172,"group":"g1 LOE","n":14},{"year":1172,"group":"g2","n":10},{"year":1172,"group":"g3","n":20},{"year":1172,"group":"g4 PYR","n":4},{"year":1172,"group":"g5 NSC","n":32},{"year":1172,"group":"g6","n":20},{"year":1172,"group":"g7","n":14},
{"year":1200,"group":"g1 LOE","n":10},{"year":1200,"group":"g2","n":3},{"year":1200,"group":"g3","n":18},{"year":1200,"group":"g4 PYR","n":4},{"year":1200,"group":"g5 NSC","n":30},{"year":1200,"group":"g6","n":24},{"year":1200,"group":"g7","n":15},
{"year":1250,"group":"g1 LOE","n":16},{"year":1250,"group":"g2","n":12},{"year":1250,"group":"g3","n":20},{"year":1250,"group":"g4 PYR","n":7},{"year":1250,"group":"g5 NSC","n":23},{"year":1250,"group":"g6","n":12},{"year":1250,"group":"g7","n":7},
{"year":1290,"group":"g1 LOE","n":24},{"year":1290,"group":"g2","n":14},{"year":1290,"group":"g3","n":20},{"year":1290,"group":"g4 PYR","n":14},{"year":1290,"group":"g5 NSC","n":21},{"year":1290,"group":"g6","n":14},{"year":1290,"group":"g7","n":11},
{"year":1330,"group":"g1 LOE","n":30},{"year":1330,"group":"g2","n":16},{"year":1330,"group":"g3","n":24},{"year":1330,"group":"g4 PYR","n":20},{"year":1330,"group":"g5 NSC","n":18},{"year":1330,"group":"g6","n":12},{"year":1330,"group":"g7","n":7},
{"year":1360,"group":"g1 LOE","n":38},{"year":1360,"group":"g2","n":20},{"year":1360,"group":"g3","n":34},{"year":1360,"group":"g4 PYR","n":34},{"year":1360,"group":"g5 NSC","n":22},{"year":1360,"group":"g6","n":20},{"year":1360,"group":"g7","n":12},
{"year":1400,"group":"g1 LOE","n":46},{"year":1400,"group":"g2","n":28},{"year":1400,"group":"g3","n":36},{"year":1400,"group":"g4 PYR","n":40},{"year":1400,"group":"g5 NSC","n":45},{"year":1400,"group":"g6","n":30},{"year":1400,"group":"g7","n":17},
{"year":1430,"group":"g1 LOE","n":51},{"year":1430,"group":"g2","n":35},{"year":1430,"group":"g3","n":35},{"year":1430,"group":"g4 PYR","n":48},{"year":1430,"group":"g5 NSC","n":56},{"year":1430,"group":"g6","n":42},{"year":1430,"group":"g7","n":23},
{"year":1465,"group":"g1 LOE","n":53},{"year":1465,"group":"g2","n":33},{"year":1465,"group":"g3","n":40},{"year":1465,"group":"g4 PYR","n":34},{"year":1465,"group":"g5 NSC","n":65},{"year":1465,"group":"g6","n":33},{"year":1465,"group":"g7","n":17},
{"year":1490,"group":"g1 LOE","n":55},{"year":1490,"group":"g2","n":31},{"year":1490,"group":"g3","n":42},{"year":1490,"group":"g4 PYR","n":40},{"year":1490,"group":"g5 NSC","n":70},{"year":1490,"group":"g6","n":32},{"year":1490,"group":"g7","n":18},
{"year":1520,"group":"g1 LOE","n":58},{"year":1520,"group":"g2","n":28},{"year":1520,"group":"g3","n":42},{"year":1520,"group":"g4 PYR","n":62},{"year":1520,"group":"g5 NSC","n":72},{"year":1520,"group":"g6","n":38},{"year":1520,"group":"g7","n":20},
{"year":1550,"group":"g1 LOE","n":56},{"year":1550,"group":"g2","n":28},{"year":1550,"group":"g3","n":42},{"year":1550,"group":"g4 PYR","n":60},{"year":1550,"group":"g5 NSC","n":69},{"year":1550,"group":"g6","n":35},{"year":1550,"group":"g7","n":22},
{"year":1580,"group":"g1 LOE","n":54},{"year":1580,"group":"g2","n":28},{"year":1580,"group":"g3","n":42},{"year":1580,"group":"g4 PYR","n":58},{"year":1580,"group":"g5 NSC","n":68},{"year":1580,"group":"g6","n":30},{"year":1580,"group":"g7","n":16},
{"year":1610,"group":"g1 LOE","n":50},{"year":1610,"group":"g2","n":28},{"year":1610,"group":"g3","n":40},{"year":1610,"group":"g4 PYR","n":54},{"year":1610,"group":"g5 NSC","n":64},{"year":1610,"group":"g6","n":19},{"year":1610,"group":"g7","n":7},
{"year":1625,"group":"g1 LOE","n":51},{"year":1625,"group":"g2","n":28},{"year":1625,"group":"g3","n":42},{"year":1625,"group":"g4 PYR","n":55},{"year":1625,"group":"g5 NSC","n":69},{"year":1625,"group":"g6","n":21},{"year":1625,"group":"g7","n":8},
{"year":1655,"group":"g1 LOE","n":52},{"year":1655,"group":"g2","n":26},{"year":1655,"group":"g3","n":40},{"year":1655,"group":"g4 PYR","n":56},{"year":1655,"group":"g5 NSC","n":66},{"year":1655,"group":"g6","n":12},{"year":1655,"group":"g7","n":5},
{"year":1685,"group":"g1 LOE","n":53},{"year":1685,"group":"g2","n":25},{"year":1685,"group":"g3","n":40},{"year":1685,"group":"g4 PYR","n":54},{"year":1685,"group":"g5 NSC","n":68},{"year":1685,"group":"g6","n":22},{"year":1685,"group":"g7","n":12},
{"year":1717,"group":"g1 LOE","n":54},{"year":1717,"group":"g2","n":24},{"year":1717,"group":"g3","n":39},{"year":1717,"group":"g4 PYR","n":55},{"year":1717,"group":"g5 NSC","n":73},{"year":1717,"group":"g6","n":31},{"year":1717,"group":"g7","n":12},
{"year":1745,"group":"g1 LOE","n":54},{"year":1745,"group":"g2","n":22},{"year":1745,"group":"g3","n":38},{"year":1745,"group":"g4 PYR","n":55},{"year":1745,"group":"g5 NSC","n":66},{"year":1745,"group":"g6","n":31},{"year":1745,"group":"g7","n":15},
{"year":1760,"group":"g1 LOE","n":54},{"year":1760,"group":"g2","n":22},{"year":1760,"group":"g3","n":38},{"year":1760,"group":"g4 PYR","n":54},{"year":1760,"group":"g5 NSC","n":54},{"year":1760,"group":"g6","n":22},{"year":1760,"group":"g7","n":9},
{"year":1782,"group":"g1 LOE","n":58},{"year":1782,"group":"g2","n":20},{"year":1782,"group":"g3","n":42},{"year":1782,"group":"g4 PYR","n":60},{"year":1782,"group":"g5 NSC","n":56},{"year":1782,"group":"g6","n":14},{"year":1782,"group":"g7","n":10},
{"year":1820,"group":"g1 LOE","n":62},{"year":1820,"group":"g2","n":18},{"year":1820,"group":"g3","n":48},{"year":1820,"group":"g4 PYR","n":67},{"year":1820,"group":"g5 NSC","n":75},{"year":1820,"group":"g6","n":15},{"year":1820,"group":"g7","n":9},
{"year":1847,"group":"g1 LOE","n":65},{"year":1847,"group":"g2","n":17},{"year":1847,"group":"g3","n":53},{"year":1847,"group":"g4 PYR","n":69},{"year":1847,"group":"g5 NSC","n":104},{"year":1847,"group":"g6","n":14},{"year":1847,"group":"g7","n":14},
{"year":1893,"group":"g1 LOE","n":70},{"year":1893,"group":"g2","n":12},{"year":1893,"group":"g3","n":58},{"year":1893,"group":"g4 PYR","n":68},{"year":1893,"group":"g5 NSC","n":117},{"year":1893,"group":"g6","n":17},{"year":1893,"group":"g7","n":12},
{"year":1940,"group":"g1 LOE","n":72},{"year":1940,"group":"g2","n":10},{"year":1940,"group":"g3","n":60},{"year":1940,"group":"g4 PYR","n":69},{"year":1940,"group":"g5 NSC","n":125},{"year":1940,"group":"g6","n":18},{"year":1940,"group":"g7","n":14},
{"year":1962,"group":"g1 LOE","n":72},{"year":1962,"group":"g2","n":12},{"year":1962,"group":"g3","n":58},{"year":1962,"group":"g4 PYR","n":72},{"year":1962,"group":"g5 NSC","n":131},{"year":1962,"group":"g6","n":20},{"year":1962,"group":"g7","n":27},
{"year":1978,"group":"g1 LOE","n":72},{"year":1978,"group":"g2","n":14},{"year":1978,"group":"g3","n":56},{"year":1978,"group":"g4 PYR","n":76},{"year":1978,"group":"g5 NSC","n":132},{"year":1978,"group":"g6","n":40},{"year":1978,"group":"g7","n":32},
{"year":1983,"group":"g1 LOE","n":70},{"year":1983,"group":"g2","n":14},{"year":1983,"group":"g3","n":54},{"year":1983,"group":"g4 PYR","n":72},{"year":1983,"group":"g5 NSC","n":120},{"year":1983,"group":"g6","n":22},{"year":1983,"group":"g7","n":8},
{"year":1986,"group":"g1 LOE","n":65},{"year":1986,"group":"g2","n":11},{"year":1986,"group":"g3","n":34},{"year":1986,"group":"g4 PYR","n":30},{"year":1986,"group":"g5 NSC","n":178},{"year":1986,"group":"g6","n":16},{"year":1986,"group":"g7","n":9},
{"year":1993,"group":"g1 LOE","n":60},{"year":1993,"group":"g2","n":12},{"year":1993,"group":"g3","n":33},{"year":1993,"group":"g4 PYR","n":30},{"year":1993,"group":"g5 NSC","n":187},{"year":1993,"group":"g6","n":23},{"year":1993,"group":"g7","n":26},
{"year":2002,"group":"g1 LOE","n":51},{"year":2002,"group":"g2","n":7},{"year":2002,"group":"g3","n":21},{"year":2002,"group":"g4 PYR","n":28},{"year":2002,"group":"g5 NSC","n":222},{"year":2002,"group":"g6","n":25},{"year":2002,"group":"g7","n":33},
{"year":2007,"group":"g1 LOE","n":45},{"year":2007,"group":"g2","n":7},{"year":2007,"group":"g3","n":20},{"year":2007,"group":"g4 PYR","n":26},{"year":2007,"group":"g5 NSC","n":212},{"year":2007,"group":"g6","n":20},{"year":2007,"group":"g7","n":20},
{"year":2010,"group":"g1 LOE","n":35},{"year":2010,"group":"g2","n":5},{"year":2010,"group":"g3","n":10},{"year":2010,"group":"g4 PYR","n":15},{"year":2010,"group":"g5 NSC","n":105},{"year":2010,"group":"g6","n":10},{"year":2010,"group":"g7","n":10},
{"year":2012,"group":"g1 LOE","n":5},{"year":2012,"group":"g2","n":2},{"year":2012,"group":"g3","n":2},{"year":2012,"group":"g4 PYR","n":2},{"year":2012,"group":"g5 NSC","n":5},{"year":2012,"group":"g6","n":2},{"year":2012,"group":"g7","n":2}
 ],
 "corr": [
{"series":"North","year":1174,"r":0.41},{"series":"North","year":1190,"r":0.37},{"series":"North","year":1200,"r":0.36},{"series":"North","year":1218,"r":0.41},{"series":"North","year":1241,"r":0.43},{"series":"North","year":1262,"r":0.49},{"series":"North","year":1280,"r":0.49},{"series":"North","year":1292,"r":0.47},{"series":"North","year":1311,"r":0.5},{"series":"North","year":1334,"r":0.57},{"series":"North","year":1362,"r":0.58},{"series":"North","year":1385,"r":0.61},{"series":"North","year":1401,"r":0.63},{"series":"North","year":1417,"r":0.61},{"series":"North","year":1440,"r":0.57},{"series":"North","year":1468,"r":0.6},{"series":"North","year":1487,"r":0.6},{"series":"North","year":1505,"r":0.54},{"series":"North","year":1524,"r":0.51},{"series":"North","year":1546,"r":0.47},{"series":"North","year":1565,"r":0.44},{"series":"North","year":1583,"r":0.48},{"series":"North","year":1597,"r":0.52},{"series":"North","year":1616,"r":0.55},{"series":"North","year":1639,"r":0.58},{"series":"North","year":1662,"r":0.63},{"series":"North","year":1676,"r":0.64},{"series":"North","year":1690,"r":0.62},{"series":"North","year":1708,"r":0.63},{"series":"North","year":1736,"r":0.68},{"series":"North","year":1754,"r":0.67},{"series":"North","year":1773,"r":0.69},{"series":"North","year":1791,"r":0.72},{"series":"North","year":1819,"r":0.74},{"series":"North","year":1842,"r":0.75},{"series":"North","year":1856,"r":0.78},{"series":"North","year":1874,"r":0.78},{"series":"North","year":1888,"r":0.77},{"series":"North","year":1902,"r":0.79},{"series":"North","year":1916,"r":0.8},
{"series":"Central","year":1174,"r":0.36},{"series":"Central","year":1200,"r":0.32},{"series":"Central","year":1227,"r":0.38},{"series":"Central","year":1257,"r":0.42},{"series":"Central","year":1287,"r":0.34},{"series":"Central","year":1315,"r":0.36},{"series":"Central","year":1338,"r":0.39},{"series":"Central","year":1366,"r":0.4},{"series":"Central","year":1385,"r":0.42},{"series":"Central","year":1403,"r":0.39},{"series":"Central","year":1417,"r":0.41},{"series":"Central","year":1431,"r":0.47},{"series":"Central","year":1468,"r":0.5},{"series":"Central","year":1500,"r":0.54},{"series":"Central","year":1514,"r":0.54},{"series":"Central","year":1523,"r":0.5},{"series":"Central","year":1542,"r":0.45},{"series":"Central","year":1565,"r":0.42},{"series":"Central","year":1593,"r":0.43},{"series":"Central","year":1611,"r":0.41},{"series":"Central","year":1639,"r":0.43},{"series":"Central","year":1653,"r":0.5},{"series":"Central","year":1666,"r":0.56},{"series":"Central","year":1685,"r":0.58},{"series":"Central","year":1717,"r":0.57},{"series":"Central","year":1736,"r":0.57},{"series":"Central","year":1754,"r":0.53},{"series":"Central","year":1768,"r":0.5},{"series":"Central","year":1786,"r":0.54},{"series":"Central","year":1810,"r":0.58},{"series":"Central","year":1823,"r":0.58},{"series":"Central","year":1847,"r":0.57},{"series":"Central","year":1865,"r":0.56},{"series":"Central","year":1893,"r":0.52},{"series":"Central","year":1916,"r":0.5},
{"series":"North vs. South","year":1174,"r":0.01},{"series":"North vs. South","year":1195,"r":0.03},{"series":"North vs. South","year":1209,"r":0.05},{"series":"North vs. South","year":1227,"r":0.09},{"series":"North vs. South","year":1243,"r":0.1},{"series":"North vs. South","year":1260,"r":0.07},{"series":"North vs. South","year":1283,"r":-0.02},{"series":"North vs. South","year":1311,"r":0.01},{"series":"North vs. South","year":1329,"r":0.04},{"series":"North vs. South","year":1352,"r":0.08},{"series":"North vs. South","year":1380,"r":0.14},{"series":"North vs. South","year":1398,"r":0.12},{"series":"North vs. South","year":1419,"r":0.12},{"series":"North vs. South","year":1440,"r":0.06},{"series":"North vs. South","year":1477,"r":-0.01},{"series":"North vs. South","year":1496,"r":-0.02},{"series":"North vs. South","year":1524,"r":-0.09},{"series":"North vs. South","year":1537,"r":-0.04},{"series":"North vs. South","year":1551,"r":0.07},{"series":"North vs. South","year":1565,"r":0.12},{"series":"North vs. South","year":1583,"r":0.14},{"series":"North vs. South","year":1597,"r":0.12},{"series":"North vs. South","year":1616,"r":0.1},{"series":"North vs. South","year":1639,"r":0.11},{"series":"North vs. South","year":1653,"r":0.07},{"series":"North vs. South","year":1671,"r":-0.02},{"series":"North vs. South","year":1685,"r":-0.02},{"series":"North vs. South","year":1708,"r":-0.01},{"series":"North vs. South","year":1726,"r":-0.02},{"series":"North vs. South","year":1745,"r":-0.04},{"series":"North vs. South","year":1759,"r":0.01},{"series":"North vs. South","year":1777,"r":0.08},{"series":"North vs. South","year":1791,"r":0.1},{"series":"North vs. South","year":1810,"r":0.07},{"series":"North vs. South","year":1828,"r":0.02},{"series":"North vs. South","year":1847,"r":0.0},{"series":"North vs. South","year":1865,"r":-0.06},{"series":"North vs. South","year":1884,"r":-0.11},{"series":"North vs. South","year":1897,"r":-0.1},{"series":"North vs. South","year":1916,"r":-0.04}
 ],
 "annA": [{"year":1426,"index":-3.32,"label":"1453"},{"year":1587,"index":-3.03,"label":"1614"},{"year":1672,"index":-2.8,"label":"1632/33"},{"year":1837,"index":-3.0,"label":"1812"}],
 "annB": [{"year":1231,"index":-3.33,"label":"1258"},{"year":1672,"index":-3.95,"label":"1698"},{"year":1841,"index":-4.21,"label":"1816"},{"year":1939,"index":-3.44,"label":"1912"}],
 "labC": [{"year":1250,"n":205,"label":"NSC"},{"year":1850,"n":14,"label":"LOE"}],
 "labPYR": [{"year":1672,"n":122,"label":"PYR"}]
},
"layer": [
 {
  "layer": [
   {"data": {"name": "north"}, "mark": {"type": "line", "strokeWidth": 1.1},
    "encoding": {
     "x": {"field": "year", "type": "quantitative", "scale": {"domain": [1100, 2012], "range": [94.5, 753], "nice": false, "zero": false},
           "axis": {"orient": "top", "offset": -69.5, "values": [1100,1200,1300,1400,1500,1600,1700,1800,1900,2000], "format": "d", "title": "Year", "tickSize": 10, "labelPadding": 4, "titleY": -44, "titleBaseline": "alphabetic"}},
     "y": {"field": "index", "type": "quantitative", "scale": {"domain": [-3.65, 3], "range": [220, 76], "nice": false, "zero": false},
           "axis": {"orient": "left", "offset": -87.5, "values": [-3, 0, 3], "format": "d", "title": "Index", "tickSize": 10, "labelPadding": 9, "titleX": -62.5, "titleY": 143.5, "titleAngle": 270, "titleBaseline": "middle", "titleAlign": "center"}},
     "color": {"datum": "MXD-north", "type": "nominal", "scale": {"domain": ["MXD-north", "Northern sites"], "range": ["#4a7bc2", "#000000"]},
               "legend": {"legendX": 201, "legendY": 75}}
    }},
   {"data": {"name": "northSites"}, "mark": {"type": "line", "strokeWidth": 2, "interpolate": "monotone"},
    "encoding": {
     "x": {"field": "year", "type": "quantitative", "scale": {"domain": [1100, 2012], "range": [94.5, 753], "nice": false, "zero": false}},
     "y": {"field": "index", "type": "quantitative", "scale": {"domain": [-3.65, 3], "range": [220, 76], "nice": false, "zero": false}},
     "detail": {"field": "site"},
     "color": {"datum": "Northern sites", "type": "nominal", "scale": {"domain": ["MXD-north", "Northern sites"], "range": ["#4a7bc2", "#000000"]}, "legend": null}
    }},
   {"data": {"name": "annA"}, "mark": {"type": "text", "font": "Liberation Sans", "fontSize": 15, "fontWeight": "bold", "fontStyle": "italic", "align": "center", "baseline": "alphabetic", "color": "#000"},
    "encoding": {
     "x": {"field": "year", "type": "quantitative", "scale": {"domain": [1100, 2012], "range": [94.5, 753], "nice": false, "zero": false}},
     "y": {"field": "index", "type": "quantitative", "scale": {"domain": [-3.65, 3], "range": [220, 76], "nice": false, "zero": false}},
     "text": {"field": "label"}
    }},
   {"data": {"values": [{}]}, "mark": {"type": "text", "text": "a", "font": "Liberation Sans", "fontSize": 28, "fontWeight": "bold", "align": "left", "baseline": "alphabetic", "color": "#000"},
    "encoding": {
     "x": {"datum": 1111, "type": "quantitative", "scale": {"domain": [1100, 2012], "range": [94.5, 753], "nice": false, "zero": false}},
     "y": {"datum": 2.2, "type": "quantitative", "scale": {"domain": [-3.65, 3], "range": [220, 76], "nice": false, "zero": false}}
    }}
  ]
 },
 {
  "layer": [
   {"data": {"name": "central"}, "mark": {"type": "line", "strokeWidth": 1.1},
    "encoding": {
     "x": {"field": "year", "type": "quantitative", "scale": {"domain": [1100, 2012], "range": [94.5, 753], "nice": false, "zero": false}, "axis": null},
     "y": {"field": "index", "type": "quantitative", "scale": {"domain": [-3.6, 3], "range": [370.2, 228.3], "nice": false, "zero": false},
           "axis": {"orient": "right", "offset": -77, "values": [-3, 0, 3], "format": "d", "title": "Index", "tickSize": 8, "labelPadding": 23, "labelAlign": "right", "titleX": 63, "titleY": 290, "titleAngle": 270, "titleBaseline": "middle", "titleAlign": "center"}},
     "color": {"datum": "MXD-central", "type": "nominal", "scale": {"domain": ["MXD-central", "Central sites"], "range": ["#e8472b", "#000000"]},
               "legend": {"legendX": 202, "legendY": 231}}
    }},
   {"data": {"name": "centralSites"}, "mark": {"type": "line", "strokeWidth": 2, "interpolate": "monotone"},
    "encoding": {
     "x": {"field": "year", "type": "quantitative", "scale": {"domain": [1100, 2012], "range": [94.5, 753], "nice": false, "zero": false}, "axis": null},
     "y": {"field": "index", "type": "quantitative", "scale": {"domain": [-3.6, 3], "range": [370.2, 228.3], "nice": false, "zero": false}},
     "detail": {"field": "site"},
     "color": {"datum": "Central sites", "type": "nominal", "scale": {"domain": ["MXD-central", "Central sites"], "range": ["#e8472b", "#000000"]}, "legend": null}
    }},
   {"data": {"name": "annB"}, "mark": {"type": "text", "font": "Liberation Sans", "fontSize": 15, "fontWeight": "bold", "fontStyle": "italic", "align": "center", "baseline": "alphabetic", "color": "#000"},
    "encoding": {
     "x": {"field": "year", "type": "quantitative", "scale": {"domain": [1100, 2012], "range": [94.5, 753], "nice": false, "zero": false}, "axis": null},
     "y": {"field": "index", "type": "quantitative", "scale": {"domain": [-3.6, 3], "range": [370.2, 228.3], "nice": false, "zero": false}},
     "text": {"field": "label"}
    }},
   {"data": {"values": [{}]}, "mark": {"type": "text", "text": "b", "font": "Liberation Sans", "fontSize": 28, "fontWeight": "bold", "align": "left", "baseline": "alphabetic", "color": "#000"},
    "encoding": {
     "x": {"datum": 1111, "type": "quantitative", "scale": {"domain": [1100, 2012], "range": [94.5, 753], "nice": false, "zero": false}, "axis": null},
     "y": {"datum": 2.31, "type": "quantitative", "scale": {"domain": [-3.6, 3], "range": [370.2, 228.3], "nice": false, "zero": false}}
    }}
  ]
 },
 {
  "layer": [
   {"data": {"name": "counts"}, "mark": {"type": "area"},
    "encoding": {
     "x": {"field": "year", "type": "quantitative", "scale": {"domain": [1100, 2012], "range": [94.5, 753], "nice": false, "zero": false},
           "axis": {"orient": "bottom", "offset": -226.7, "ticks": false, "labels": false, "title": null, "domainColor": "#000", "domainWidth": 1.5}},
     "y": {"field": "n", "type": "quantitative", "stack": "zero", "scale": {"domain": [0, 500], "range": [502.3, 382.3], "nice": false, "zero": false},
           "axis": {"orient": "left", "offset": -87.5, "values": [0, 100, 200, 300, 400, 500], "title": "Number", "tickSize": 10, "labelPadding": 8, "titleX": -67.3, "titleY": 431, "titleAngle": 270, "titleBaseline": "middle", "titleAlign": "center"}},
     "color": {"field": "group", "type": "nominal", "scale": {"domain": ["g1 LOE", "g2", "g3", "g4 PYR", "g5 NSC", "g6", "g7"], "range": ["#fdcca2", "#f5882f", "#e5432a", "#8b1c16", "#5a7ec3", "#3b5aae", "#2a3897"]}, "legend": null},
     "order": {"field": "group", "sort": "ascending"}
    }},
   {"data": {"name": "labC"}, "mark": {"type": "text", "font": "Liberation Sans", "fontSize": 18, "fontWeight": "bold", "fontStyle": "italic", "align": "center", "baseline": "alphabetic", "color": "#000"},
    "encoding": {
     "x": {"field": "year", "type": "quantitative", "scale": {"domain": [1100, 2012], "range": [94.5, 753], "nice": false, "zero": false}},
     "y": {"field": "n", "type": "quantitative", "scale": {"domain": [0, 500], "range": [502.3, 382.3], "nice": false, "zero": false}},
     "text": {"field": "label"}
    }},
   {"data": {"name": "labPYR"}, "mark": {"type": "text", "font": "Liberation Sans", "fontSize": 18, "fontWeight": "bold", "fontStyle": "italic", "align": "center", "baseline": "alphabetic", "color": "#ffffff"},
    "encoding": {
     "x": {"field": "year", "type": "quantitative", "scale": {"domain": [1100, 2012], "range": [94.5, 753], "nice": false, "zero": false}},
     "y": {"field": "n", "type": "quantitative", "scale": {"domain": [0, 500], "range": [502.3, 382.3], "nice": false, "zero": false}},
     "text": {"field": "label"}
    }},
   {"data": {"values": [{}]}, "mark": {"type": "rule", "color": "#000", "strokeWidth": 1.3},
    "encoding": {
     "x": {"datum": 1274, "type": "quantitative", "scale": {"domain": [1100, 2012], "range": [94.5, 753], "nice": false, "zero": false}},
     "y": {"datum": 190, "type": "quantitative", "scale": {"domain": [0, 500], "range": [502.3, 382.3], "nice": false, "zero": false}},
     "x2": {"datum": 1293},
     "y2": {"datum": 101}
    }},
   {"data": {"values": [{}]}, "mark": {"type": "point", "shape": "triangle", "filled": true, "color": "#000", "size": 60, "angle": 146, "opacity": 1},
    "encoding": {
     "x": {"datum": 1294, "type": "quantitative", "scale": {"domain": [1100, 2012], "range": [94.5, 753], "nice": false, "zero": false}},
     "y": {"datum": 98, "type": "quantitative", "scale": {"domain": [0, 500], "range": [502.3, 382.3], "nice": false, "zero": false}}
    }},
   {"data": {"values": [{}]}, "mark": {"type": "text", "text": "c", "font": "Liberation Sans", "fontSize": 28, "fontWeight": "bold", "align": "left", "baseline": "alphabetic", "color": "#000"},
    "encoding": {
     "x": {"datum": 1110, "type": "quantitative", "scale": {"domain": [1100, 2012], "range": [94.5, 753], "nice": false, "zero": false}},
     "y": {"datum": 480, "type": "quantitative", "scale": {"domain": [0, 500], "range": [502.3, 382.3], "nice": false, "zero": false}}
    }}
  ]
 },
 {
  "layer": [
   {"data": {"values": [{}]}, "mark": {"type": "rule", "color": "#000", "strokeWidth": 1, "strokeDash": [5, 4]},
    "encoding": {
     "x": {"datum": 1103, "type": "quantitative", "scale": {"domain": [1100, 2012], "range": [94.5, 753], "nice": false, "zero": false},
           "axis": {"orient": "bottom", "offset": -61, "values": [1100,1200,1300,1400,1500,1600,1700,1800,1900,2000], "format": "d", "title": "Year", "tickSize": 10, "labelPadding": 7, "titleY": 57, "titleBaseline": "alphabetic"}},
     "x2": {"datum": 2010},
     "y": {"datum": 0, "type": "quantitative", "scale": {"domain": [-0.2, 0.8], "range": [660.3, 552.3], "nice": false, "zero": false},
           "axis": {"orient": "right", "offset": -77, "values": [-0.2, 0, 0.2, 0.4, 0.6, 0.8], "format": ".1f", "title": "Correlation", "tickSize": 10, "labelPadding": 42, "labelAlign": "right", "titleX": 66, "titleY": 606, "titleAngle": 270, "titleBaseline": "middle", "titleAlign": "center"}}
    }},
   {"data": {"name": "corr"}, "mark": {"type": "line", "strokeWidth": 2.6, "interpolate": "monotone"},
    "encoding": {
     "x": {"field": "year", "type": "quantitative", "scale": {"domain": [1100, 2012], "range": [94.5, 753], "nice": false, "zero": false}},
     "y": {"field": "r", "type": "quantitative", "scale": {"domain": [-0.2, 0.8], "range": [660.3, 552.3], "nice": false, "zero": false}},
     "color": {"field": "series", "type": "nominal", "scale": {"domain": ["North", "Central", "North vs. South"], "range": ["#5b8dd6", "#e8452b", "#4d4d4d"]},
               "legend": {"legendX": 129, "legendY": 538, "columnPadding": 25}}
    }},
   {"data": {"values": [{}]}, "mark": {"type": "text", "text": "d", "font": "Liberation Sans", "fontSize": 28, "fontWeight": "bold", "align": "left", "baseline": "alphabetic", "color": "#000"},
    "encoding": {
     "x": {"datum": 1111, "type": "quantitative", "scale": {"domain": [1100, 2012], "range": [94.5, 753], "nice": false, "zero": false}},
     "y": {"datum": 0.886, "type": "quantitative", "scale": {"domain": [-0.2, 0.8], "range": [660.3, 552.3], "nice": false, "zero": false}}
    }}
  ]
 }
],
"resolve": {"scale": {"y": "independent", "color": "independent"}, "axis": {"x": "independent", "y": "independent"}, "legend": {"color": "independent"}}
}
